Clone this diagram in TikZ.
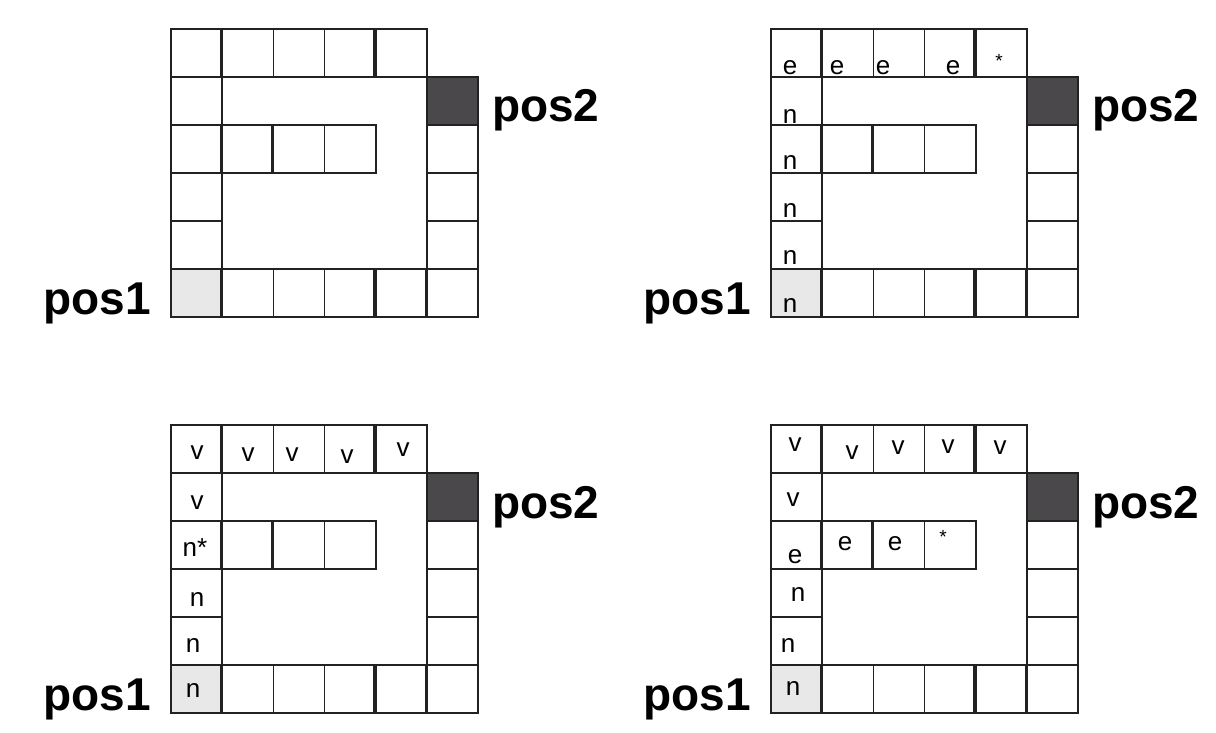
\documentclass[tikz,border=0pt]{standalone}
\usepackage{fontspec}
\setmainfont{Liberation Sans}
\usepackage{tikz}
\usetikzlibrary{positioning,calc}
\definecolor{darkcell}{HTML}{4B484B}
\definecolor{lightcell}{HTML}{E8E8E8}
\definecolor{gridline}{HTML}{222222}
% one board: prefix, left edge, top edge
\newcommand{\Board}[3]{%
  \foreach \cx/\ry in {0/0,1/0,2/0,3/0,4/0,0/1,0/2,1/2,2/2,3/2,5/2,0/3,5/3,0/4,5/4,1/5,2/5,3/5,4/5,5/5}
    \node[cell] (#1-\cx-\ry) at ({#2+(\cx+0.5)*51.2},{#3+(\ry+0.5)*48}) {};
  \node[cell, fill=darkcell] (#1-5-1) at ({#2+5.5*51.2},{#3+1.5*48}) {};
  \node[cell, fill=lightcell] (#1-0-5) at ({#2+0.5*51.2},{#3+5.5*48}) {};
  % heavier joins
  \foreach \cx/\ry in {1/0,4/0,1/2,2/2,1/5,4/5,5/5}
    \draw[joint] (#1-\cx-\ry.north west) -- (#1-\cx-\ry.south west);
  \node[poslbl, anchor=base east] (#1-pos1) at ($(#1-0-5.west)+(-19,21)$) {pos1};
  \node[poslbl, anchor=base west] (#1-pos2) at ($(#1-5-1.east)+(13,21)$) {pos2};
}

\begin{document}
\begin{tikzpicture}[
    x=1pt, y=-1pt,
    cell/.style={draw=gridline, line width=1.6pt, fill=white, inner sep=0pt,
                 minimum width=51.2pt, minimum height=48pt},
    joint/.style={draw=gridline, line width=3.2pt},
    poslbl/.style={font=\fontsize{46}{50}\selectfont\bfseries, inner sep=0pt},
    celltxt/.style={font=\fontsize{26}{28}\selectfont, inner sep=0pt},
    startxt/.style={font=\fontsize{19}{20}\selectfont, inner sep=0pt}
]
\useasboundingbox (0,0) rectangle (1216,733);

% Boards
\Board{a}{171}{29}
\Board{b}{771}{29}
\Board{c}{171}{425}
\Board{d}{771}{425}

% Board b marks
\node[celltxt] (b-t0) at (790,68) {e};
\node[celltxt] (b-t1) at (837,68) {e};
\node[celltxt] (b-t2) at (883,68) {e};
\node[celltxt] (b-t3) at (953,68) {e};
\node[startxt] (b-t4) at (999,61) {*};
\node[celltxt] (b-l1) at (790,117) {n};
\node[celltxt] (b-l2) at (790,163) {n};
\node[celltxt] (b-l3) at (790,211) {n};
\node[celltxt] (b-l4) at (790,258) {n};
\node[celltxt] (b-l5) at (790,306) {n};

% Board c marks
\node[celltxt] (c-t0) at (197,453) {v};
\node[celltxt] (c-t1) at (248,455) {v};
\node[celltxt] (c-t2) at (292,455) {v};
\node[celltxt] (c-t3) at (347,457) {v};
\node[celltxt] (c-t4) at (403,450) {v};
\node[celltxt] (c-l1) at (197,503) {v};
\node[celltxt] (c-l2) at (195,548) {n*};
\node[celltxt] (c-l3) at (197,600) {n};
\node[celltxt] (c-l4) at (193,645) {n};
\node[celltxt] (c-l5) at (193,690) {n};

% Board d marks
\node[celltxt] (d-t0) at (795,445) {v};
\node[celltxt] (d-t1) at (852,453) {v};
\node[celltxt] (d-t2) at (898,448) {v};
\node[celltxt] (d-t3) at (948,447) {v};
\node[celltxt] (d-t4) at (1000,448) {v};
\node[celltxt] (d-l1) at (793,500) {v};
\node[celltxt] (d-l2) at (795,557) {e};
\node[celltxt] (d-l3) at (798,595) {n};
\node[celltxt] (d-l4) at (788,645) {n};
\node[celltxt] (d-l5) at (793,688) {n};
\node[celltxt] (d-m1) at (845,544) {e};
\node[celltxt] (d-m2) at (895,544) {e};
\node[startxt] (d-m3) at (943,537) {*};

\end{tikzpicture}
\end{document}
